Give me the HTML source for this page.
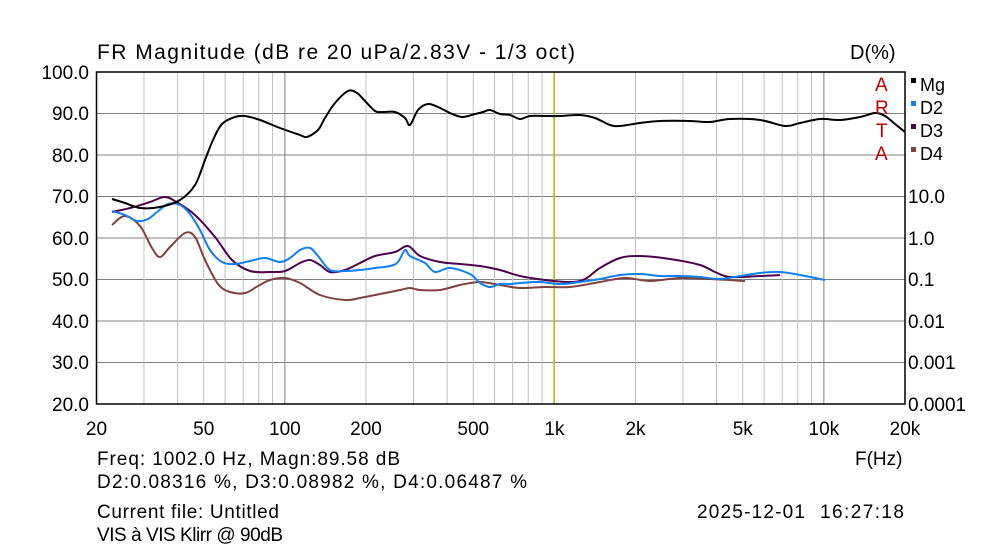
<!DOCTYPE html><html><head><style>
body{margin:0;background:#fff;}
svg text{font-family:"Liberation Sans",sans-serif;fill:#000;}
</style></head><body>
<svg id="s" width="1000" height="552" xmlns="http://www.w3.org/2000/svg">
<rect width="1000" height="552" fill="#fff"/>
<g id="grid"></g>
<line x1="554" y1="72" x2="554" y2="404" stroke="#c8c800" stroke-width="1.5"/>
<g id="curves" fill="none" stroke-width="2"></g>
<rect x="96.5" y="72" width="808.5" height="332" fill="none" stroke="#000" stroke-width="1.5"/>
<text x="97" y="59" font-size="21" textLength="478" lengthAdjust="spacing">FR Magnitude (dB re 20 uPa/2.83V - 1/3 oct)</text>
<text x="850" y="59" font-size="20">D(%)</text>
<g font-size="19" text-anchor="end">
<text x="89" y="79">100.0</text><text x="89" y="120">90.0</text><text x="89" y="162">80.0</text>
<text x="89" y="203">70.0</text><text x="89" y="245">60.0</text><text x="89" y="286">50.0</text>
<text x="89" y="328">40.0</text><text x="89" y="369">30.0</text><text x="89" y="411">20.0</text>
</g>
<g font-size="19">
<text x="908" y="203">10.0</text><text x="908" y="245">1.0</text><text x="908" y="286">0.1</text>
<text x="908" y="328">0.01</text><text x="908" y="369">0.001</text><text x="908" y="411">0.0001</text>
</g>
<g font-size="19" text-anchor="middle" id="xl"></g>
<g font-size="19"><text x="875" y="91" style="fill:#c00000">A</text><text x="875" y="114" style="fill:#c00000">R</text><text x="876" y="137" style="fill:#c00000">T</text><text x="875" y="160" style="fill:#c00000">A</text></g>
<rect x="911" y="78" width="5" height="5" fill="#000"/><rect x="911" y="101" width="5" height="5" fill="#1080f0"/>
<rect x="911" y="124" width="5" height="5" fill="#500050"/><rect x="911" y="147" width="5" height="5" fill="#804040"/>
<g font-size="18"><text x="920" y="91">Mg</text><text x="920" y="114">D2</text><text x="920" y="137">D3</text><text x="920" y="160">D4</text></g>
<g font-size="19">
<text x="97" y="465" textLength="303" lengthAdjust="spacing">Freq: 1002.0 Hz, Magn:89.58 dB</text>
<text x="97" y="488" textLength="430" lengthAdjust="spacing">D2:0.08316 %, D3:0.08982 %, D4:0.06487 %</text>
<text x="97" y="518" textLength="182" lengthAdjust="spacing">Current file: Untitled</text>
<text x="97" y="541" textLength="186" lengthAdjust="spacing">VIS à VIS Klirr @ 90dB</text>
<text x="855" y="465">F(Hz)</text>
<text x="697" y="518" textLength="108" lengthAdjust="spacing">2025-12-01</text>
<text x="820" y="518" textLength="84" lengthAdjust="spacing">16:27:18</text>
</g>
</svg>
<script>
function X(f){return 96.5+269.5*Math.log10(f/20);}
var g=document.getElementById('grid'),h='';
for(var k=1;k<8;k++){var y=72+41.5*k;h+='<line x1="96" x2="905" y1="'+y+'" y2="'+y+'" stroke="#808080"/>';}
[10,100,1000,10000].forEach(function(d){for(var m=1;m<10;m++){var f=d*m;if(f<=20||f>=20000)continue;var maj=(m==1);
h+='<line y1="72" y2="404" x1="'+X(f)+'" x2="'+X(f)+'" stroke="'+(maj?'#808080':'#c0c0c0')+'"/>';}});
g.innerHTML=h;
var xl='';[[20,'20'],[50,'50'],[100,'100'],[200,'200'],[500,'500'],[1000,'1k'],[2000,'2k'],[5000,'5k'],[10000,'10k'],[20000,'20k']].forEach(function(a){xl+='<text x="'+X(a[0])+'" y="435">'+a[1]+'</text>';});
document.getElementById('xl').innerHTML=xl;
function path(p){var d='M'+p[0][0]+','+p[0][1];for(var i=0;i<p.length-1;i++){var p0=p[i-1]||p[i],p1=p[i],p2=p[i+1],p3=p[i+2]||p2;
d+=' C'+(p1[0]+(p2[0]-p0[0])/6)+','+(p1[1]+(p2[1]-p0[1])/6)+' '+(p2[0]-(p3[0]-p1[0])/6)+','+(p2[1]-(p3[1]-p1[1])/6)+' '+p2[0]+','+p2[1];}return d;}
var C={
'#804040':[[112,225],[125,216],[140,226],[152,248],[160,257],[170,247],[185,233],[195,237],[205,260],[218,284],[230,292],[245,293],[258,286],[270,280],[285,278],[300,283],[320,295],[345,300],[360,298],[380,294],[400,290],[410,288],[420,290],[440,290],[460,285],[480,282],[500,285],[520,288],[545,287],[570,287],[600,282],[625,278],[650,281],[680,278],[710,279],[745,281]],
'#500050':[[112,212],[130,208],[150,202],[165,197],[178,203],[195,215],[215,237],[232,260],[250,271],[270,272],[285,271],[300,263],[310,260],[320,265],[330,272],[345,270],[360,263],[375,256],[395,252],[408,246],[420,256],[440,262],[460,264],[480,266],[500,270],[520,276],[545,280],[570,282],[585,279],[600,268],[620,258],[640,256],[670,259],[700,265],[715,272],[730,277],[760,276],[780,275]],
'#1080f0':[[112,211],[125,215],[137,221],[148,219],[157,212],[168,204],[180,205],[190,214],[200,230],[210,250],[222,262],[235,264],[250,261],[265,258],[280,262],[290,258],[300,250],[310,248],[318,256],[330,270],[345,271],[360,270],[375,268],[390,266],[398,262],[405,250],[410,256],[425,263],[435,272],[450,268],[470,274],[480,283],[490,287],[500,284],[510,284],[520,283],[540,282],[560,284],[580,282],[600,279],[620,275],[640,274],[660,276],[680,276],[700,277],[720,279],[740,276],[760,273],[780,272],[800,275],[825,280]],
'#000':[[112,199],[125,203],[140,208],[160,207],[180,200],[195,185],[205,160],[213,140],[222,124],[235,117],[245,116],[260,120],[280,128],[300,135],[307,137],[318,130],[325,118],[335,103],[348,91],[357,93],[365,101],[375,111],[382,112],[395,112],[405,118],[410,125],[418,110],[428,104],[438,107],[450,113],[462,117],[475,114],[483,112],[490,110],[500,114],[510,115],[520,119],[530,116],[545,116],[560,116],[580,115],[595,118],[610,125],[620,126],[640,123],[660,121],[690,121],[710,122],[730,119],[760,120],[785,126],[800,123],[820,119],[840,120],[860,117],[875,113],[885,116],[895,124],[905,132]]};
var cg=document.getElementById('curves'),s='';
for(var c in C)s+='<path d="'+path(C[c])+'" stroke="'+c+'"/>';
cg.innerHTML=s;
</script>
</body></html>
